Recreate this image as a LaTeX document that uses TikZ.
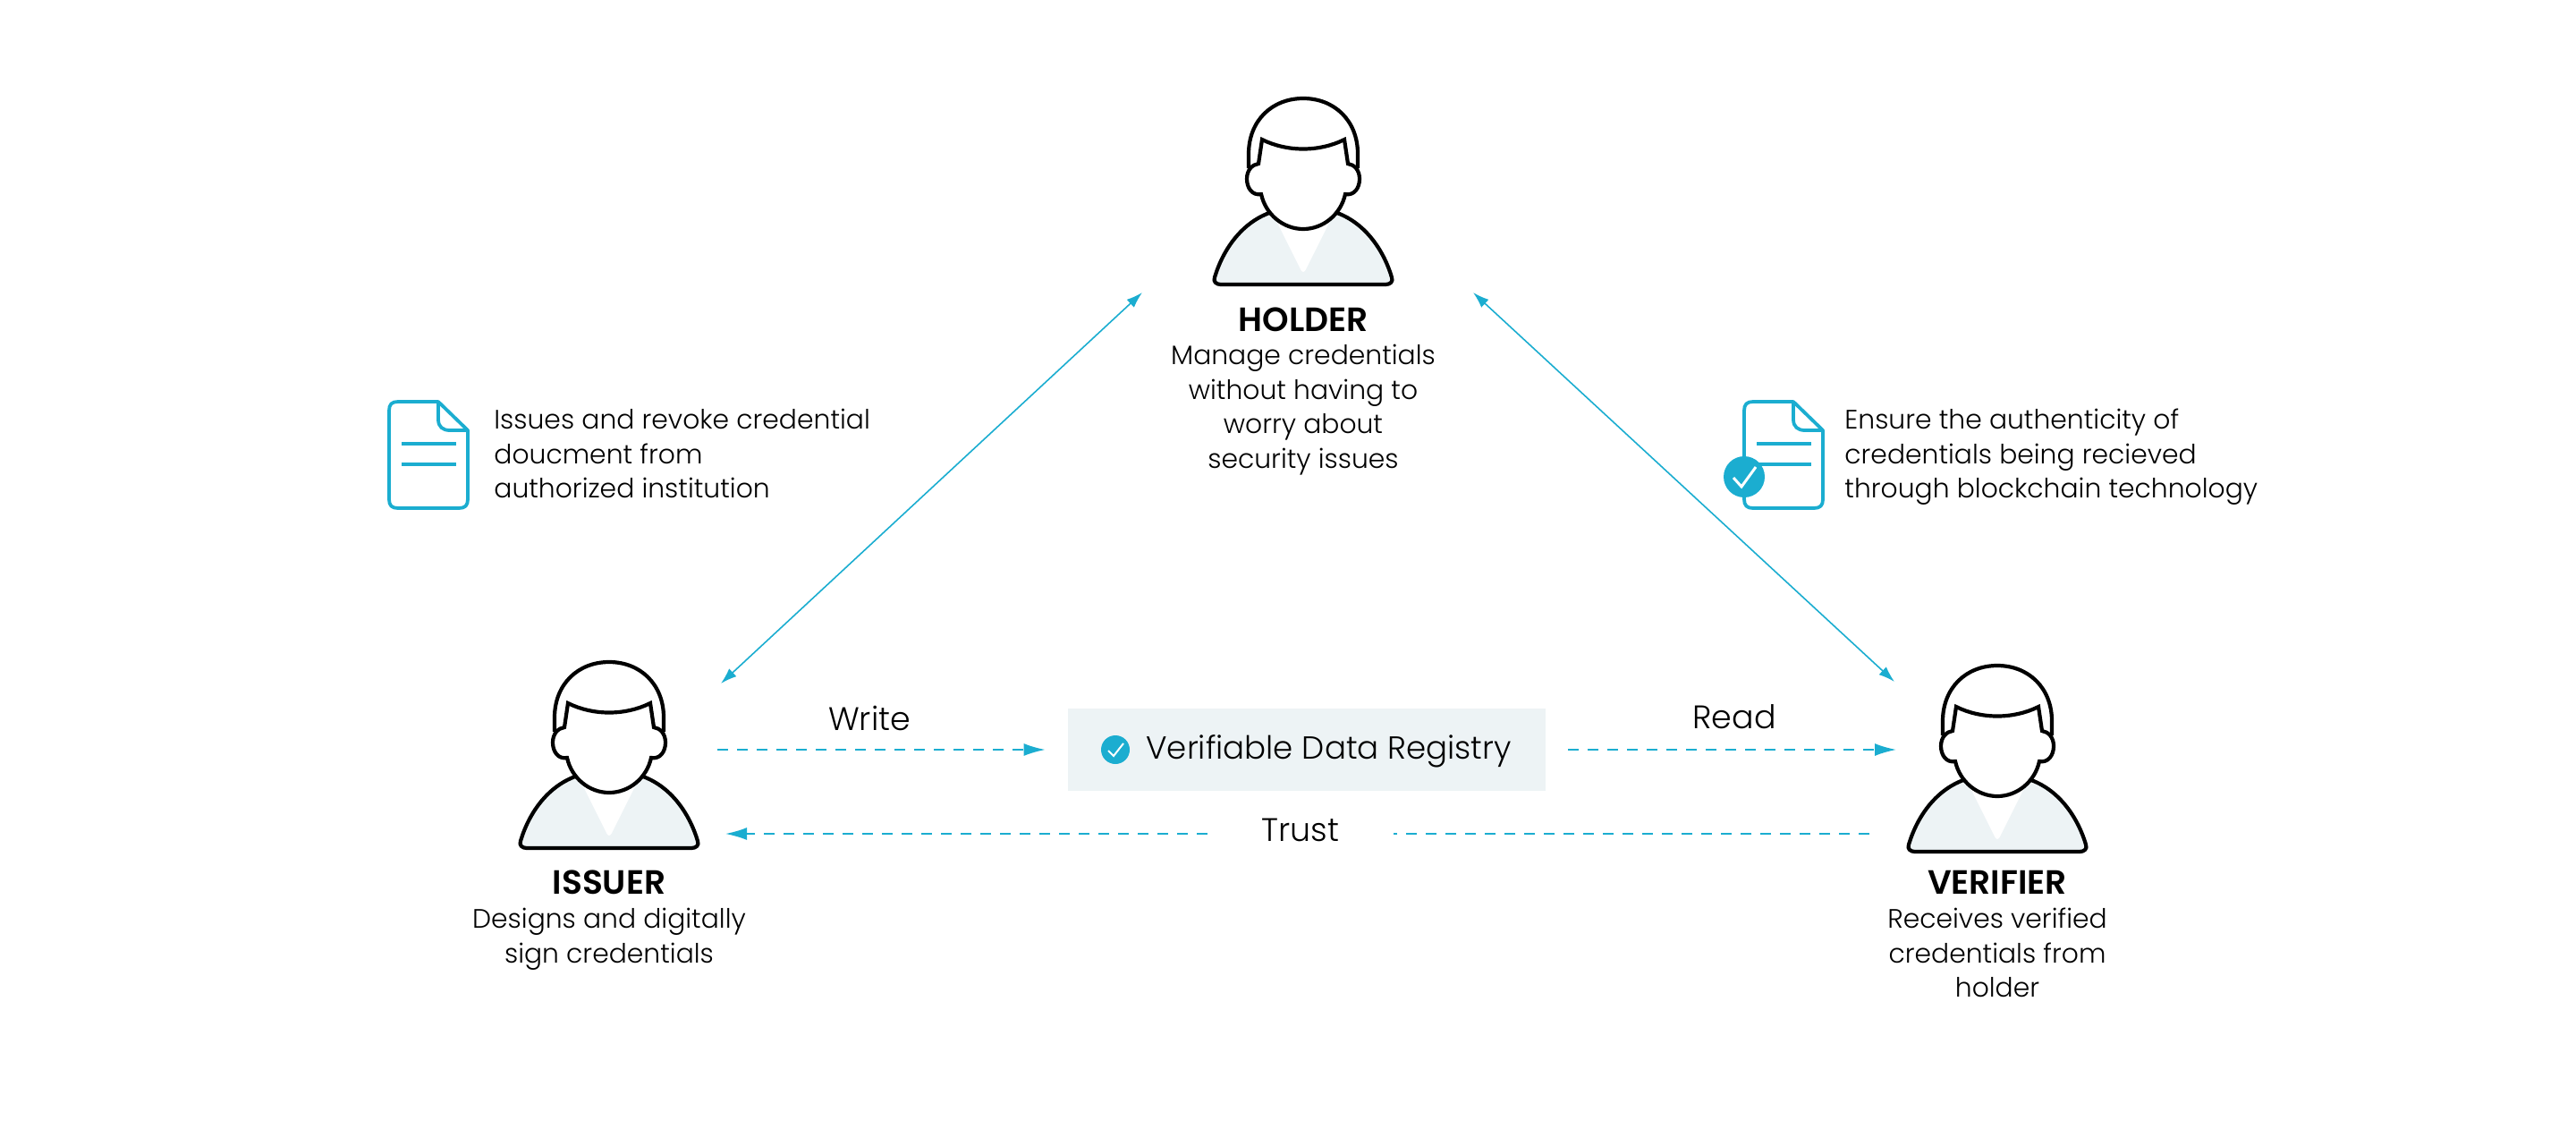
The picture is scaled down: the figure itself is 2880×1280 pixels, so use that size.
\documentclass[tikz,border=0pt]{standalone}
\usepackage{fontspec}
\setmainfont{Poppins}[UprightFont=* Light,BoldFont=* SemiBold]
\usetikzlibrary{arrows.meta}
\usetikzlibrary{positioning}
\definecolor{regblue}{HTML}{1BADD0}
\definecolor{regpale}{HTML}{EDF3F5}
\tikzset{>={Latex[length=9pt,width=6pt]}}
\tikzset{
  x=0.5pt, y=-0.5pt,
  txt/.style={inner sep=0pt, font=\fontsize{14.9}{19.3}\selectfont, align=center},
  notetxt/.style={txt, align=left, anchor=west},
  flowtxt/.style={inner sep=0pt, font=\fontsize{18.2}{21}\selectfont},
  rolename/.style={inner sep=0pt, font=\fontsize{18.8}{21}\selectfont\bfseries},
  personbox/.style={inner sep=0pt, minimum width=104pt, minimum height=104pt},
  solidline/.style={<->, regblue, line width=0.8pt},
  dashline/.style={regblue, line width=0.9pt, dash pattern=on 6pt off 5pt},
  dashtip/.style={-{Latex[length=12pt,width=7pt]}},
  person/.pic={
    \draw[line width=2.1pt, fill=regpale, line join=round] (-38,128) .. controls (-70,140) and (-90,170) .. (-99,200)
      .. controls (-101,205) and (-97,208) .. (-92,208) -- (92,208)
      .. controls (97,208) and (101,205) .. (99,200) .. controls (90,170) and (70,140) .. (38,128) -- cycle;
    \fill[white, rounded corners=3pt] (-32,133) -- (0,197) -- (32,133) -- cycle;
    \draw[line width=2.1pt, fill=white] (-61,78) -- (-61,62) .. controls (-61,25) and (-35,0) .. (0,0)
      .. controls (35,0) and (61,25) .. (61,62) -- (61,78);
    \draw[line width=2.1pt, fill=white, line join=miter] (-47,107) .. controls (-57,109) and (-63,100) .. (-63,90)
      .. controls (-63,80) and (-57,74) .. (-50,73) -- (-46,46)
      .. controls (-18,60) and (18,60) .. (46,46) -- (50,73)
      .. controls (57,74) and (63,80) .. (63,90) .. controls (63,100) and (57,109) .. (47,107)
      .. controls (42,130) and (22,146) .. (0,146) .. controls (-22,146) and (-42,130) .. (-47,107) -- cycle;
  },
  docicon/.pic={
    \draw[regblue, line width=1.9pt, line join=round] (55,0) -- (10,0) .. controls (3,0) and (0,3) .. (0,10) -- (0,109)
      .. controls (0,116) and (3,119) .. (10,119) -- (78,119) .. controls (85,119) and (88,116) .. (88,109)
      -- (88,32) -- (55,0) -- (55,20) .. controls (55,28) and (60,32) .. (68,32) -- (88,32);
    \draw[regblue, line width=1.9pt] (14,47) -- (75,47) (14,70) -- (75,70);
  }
}
\begin{document}
\begin{tikzpicture}
  \useasboundingbox (0,0) rectangle (2880,1280);

  % people, box centre is 104 below the top of the head
  \node[personbox] (holder) at (1457,214) {};
  \pic at (1457,110) {person};
  \node[personbox] (issuer) at (681,844) {};
  \pic at (681,740) {person};
  \node[personbox] (verifier) at (2233,848) {};
  \pic at (2233,744) {person};

  \node[rolename] (holdername) at (1457,357) {HOLDER};
  \node[txt, below=7pt of holdername] (holdertxt) {Manage credentials\\without having to\\worry about\\security issues};
  \node[rolename] (issuername) at (681,986) {ISSUER};
  \node[txt, below=7.5pt of issuername] (issuertxt) {Designs and digitally\\sign credentials};
  \node[rolename] (verifiername) at (2233,986) {VERIFIER};
  \node[txt, below=7.5pt of verifiername] (verifiertxt) {Receives verified\\credentials from\\holder};

  % registry in the middle
  \node[fill=regpale, minimum width=267pt, minimum height=46pt, inner sep=0pt] (registry) at (1461,838) {};
  \node[flowtxt, anchor=west, font=\fontsize{17.8}{21}\selectfont] (registrytxt) at (1281,840) {Verifiable Data Registry};
  \node[circle, fill=regblue, minimum size=16pt, inner sep=0pt] (registrycheck) at (1247,838) {};
  \draw[white, line width=1pt] (1239,839) -- (1245,845) -- (1256,831);

  % notes
  \pic at (435,449) {docicon};
  \node[notetxt] (issuenote) at (552,507) {Issues and revoke credential\\doucment from\\authorized institution};
  \pic at (1950,449) {docicon};
  \node[circle, fill=regblue, minimum size=23pt, inner sep=0pt] (notecheck) at (1950,533) {};
  \draw[white, line width=1.5pt] (1938,534) -- (1947,544) -- (1963,522);
  \node[notetxt] (verifynote) at (2062,511) {Ensure the authenticity of\\credentials being recieved\\through blockchain technology};

  % free ends of the connectors
  \coordinate (holderleft) at (1277,327);
  \coordinate (holderright) at (1647,327);
  \coordinate (issuertop) at (806,764);
  \coordinate (verifiertop) at (2118,762);
  \coordinate (issuerout) at (802,838);
  \coordinate (verifierin) at (2120,838);
  \coordinate (issuerin) at (811,932);
  \coordinate (verifierout) at (2090,932);

  \draw[solidline] (issuertop) -- (holderleft);
  \draw[solidline] (holderright) -- (verifiertop);
  \draw[dashline, dashtip, shorten >=12.5pt] (issuerout) -- (registry.west);
  \draw[dashline, dashtip, shorten <=12.5pt] (registry.east) -- (verifierin);
  \node[flowtxt, minimum width=104pt] (trust) at (1454,928) {Trust};
  \draw[dashline] (verifierout) -- (verifierout -| trust.east);
  \draw[dashline, dashtip] (issuerin -| trust.west) -- (issuerin);
  \node[flowtxt] (write) at (972,803) {Write};
  \node[flowtxt] (read) at (1939,801) {Read};
\end{tikzpicture}
\end{document}
